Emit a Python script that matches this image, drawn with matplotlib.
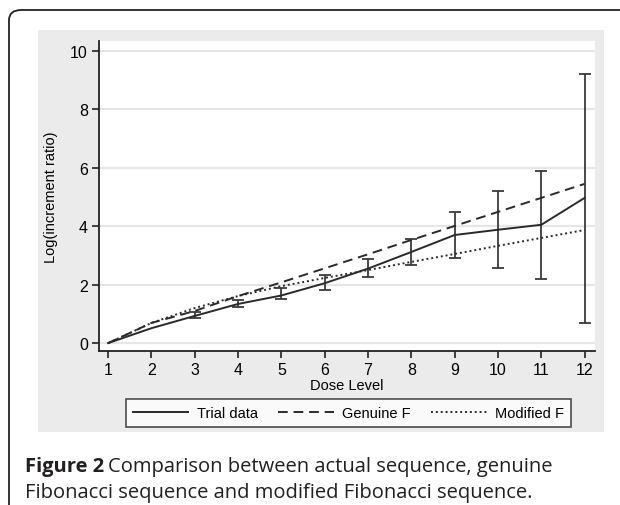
import matplotlib
matplotlib.use("Agg")
import matplotlib.pyplot as plt
from matplotlib.patches import Rectangle, FancyBboxPatch

# dose levels and the three curves (log of increment ratio)
dose = [1, 2, 3, 4, 5, 6, 7, 8, 9, 10, 11, 12]
trial = [0, 0.51, 0.93, 1.34, 1.63, 2.05, 2.55, 3.12, 3.70, 3.88, 4.05, 4.97]
trial_lo = [0, 0.49, 0.85, 1.22, 1.50, 1.82, 2.25, 2.67, 2.92, 2.58, 2.20, 0.70]
trial_hi = [0, 0.53, 1.05, 1.48, 1.87, 2.32, 2.88, 3.58, 4.50, 5.20, 5.90, 9.20]
genuine = [0, 0.69, 1.10, 1.61, 2.08, 2.56, 3.04, 3.53, 4.01, 4.49, 4.97, 5.45]
modified = [0, 0.69, 1.20, 1.61, 1.95, 2.23, 2.50, 2.78, 3.05, 3.33, 3.60, 3.87]
yticks = [0, 2, 4, 6, 8, 10]

plt.rcParams['font.family'] = ['Liberation Sans', 'DejaVu Sans']
cap_font = ['Open Sans', 'DejaVu Sans']

fig = plt.figure(figsize=(6.2, 5.06), dpi=100)
W, H = 620, 506

# outer frame with rounded corner
fig.patches.append(FancyBboxPatch((9 / W, -20 / H), 700 / W, (H - 11 + 20) / H,
                                  boxstyle="round,pad=0,rounding_size=0.02",
                                  transform=fig.transFigure, fill=False,
                                  edgecolor='#222222', linewidth=1.3, zorder=-10))
# gray panel
fig.patches.append(Rectangle((38 / W, (H - 433) / H), 566 / W, 402 / H,
                             transform=fig.transFigure, facecolor='#ebebeb',
                             edgecolor='none', zorder=-10))

ax = fig.add_axes([99 / W, (H - 352) / H, 496 / W, 310 / H])
ax.set_facecolor('white')
ax.set_xlim(0.79, 12.24)
ax.set_ylim(-0.27, 10.34)

for y in yticks:
    ax.axhline(y, color='#e6e6e6', linewidth=1.6, zorder=0)

lo_err = [t - l for t, l in zip(trial, trial_lo)]
hi_err = [h - t for t, h in zip(trial, trial_hi)]
ax.errorbar(dose[2:], trial[2:], yerr=[lo_err[2:], hi_err[2:]], fmt='none',
            ecolor='#3a3a3a', elinewidth=1.3, capsize=4, capthick=1.3, zorder=2)

l1, = ax.plot(dose, trial, color='#2a2a2a', linewidth=1.4, label='Trial data', zorder=3)
l2, = ax.plot(dose, genuine, color='#2a2a2a', linewidth=1.4, linestyle=(0, (5, 3)),
              label='Genuine F', zorder=3)
l3, = ax.plot(dose, modified, color='#2a2a2a', linewidth=1.4, linestyle=(0, (1, 1.5)),
              label='Modified F', zorder=3)

for s in ['top', 'right']:
    ax.spines[s].set_visible(False)
for s in ['left', 'bottom']:
    ax.spines[s].set_linewidth(1.3)
    ax.spines[s].set_color('#222222')

ax.set_xticks(dose)
ax.set_yticks(yticks)
ax.tick_params(labelsize=11.5, length=5, width=1.2, color='#222222', pad=3)
ax.set_xlabel('Dose Level', fontsize=10.5, labelpad=0.5)
ax.set_ylabel('Log(increment ratio)', fontsize=10.5, labelpad=9)

leg = fig.legend(handles=[l1, l2, l3], loc='center', ncol=3,
                 bbox_to_anchor=(348.5 / W, (H - 414) / H), fontsize=10.5,
                 frameon=True, fancybox=False, handlelength=3.8, columnspacing=1.4,
                 handletextpad=0.6, borderpad=0.45)
leg.get_frame().set_edgecolor('#222222')
leg.get_frame().set_linewidth(1.2)

# caption: bold "Figure 2" followed by regular text
t1 = fig.text(25 / W, (H - 467) / H, 'Figure 2', fontsize=14.5, fontweight='bold',
              family=cap_font, va='center', color='#231f20')
r = fig.canvas.get_renderer()
bb = t1.get_window_extent(renderer=r)
fig.text((bb.x1 + 4) / W, (H - 467) / H, 'Comparison between actual sequence, genuine',
         fontsize=14.5, family=cap_font, va='center', color='#231f20')
fig.text(25 / W, (H - 493) / H, 'Fibonacci sequence and modified Fibonacci sequence.',
         fontsize=14.5, family=cap_font, va='center', color='#231f20')

fig.savefig('out.png', dpi=100)
